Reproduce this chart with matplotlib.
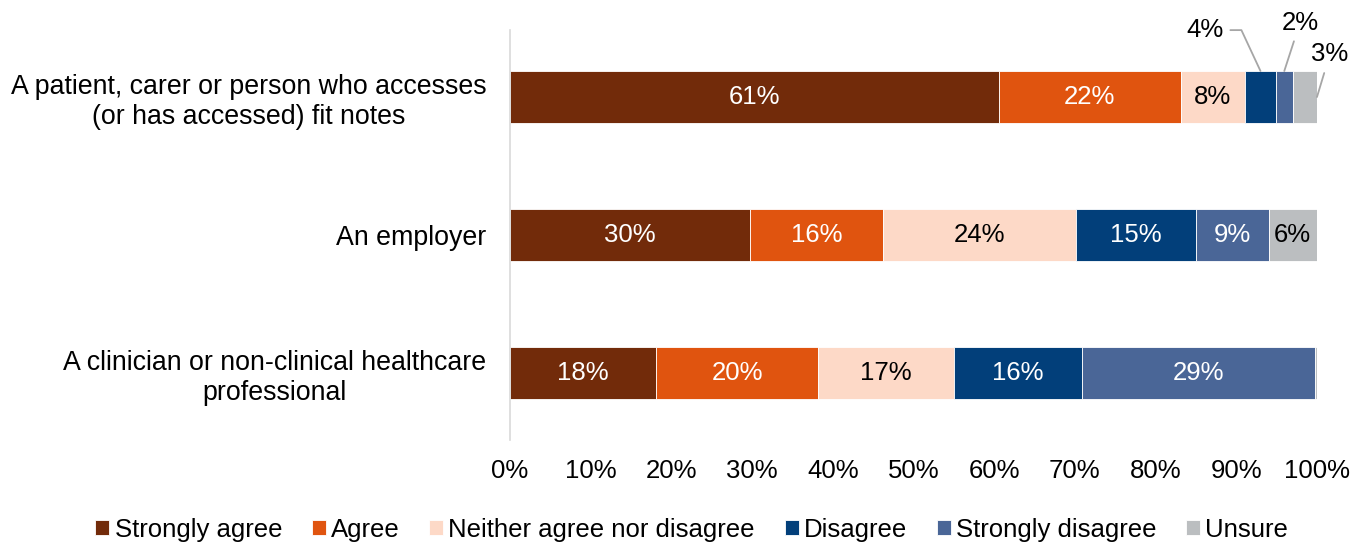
import matplotlib
matplotlib.use("Agg")
import matplotlib.pyplot as plt
import numpy as np

plt.rcParams['font.family'] = ['Liberation Sans', 'DejaVu Sans']
FS = 18.5

categories = ["A patient, carer or person who accesses\n(or has accessed) fit notes",
              "An employer",
              "A clinician or non-clinical healthcare\nprofessional"]
series = ["Strongly agree", "Agree", "Neither agree nor disagree",
          "Disagree", "Strongly disagree", "Unsure"]
strongly_agree = [60.6, 29.7, 18.1]
agree = [22.5, 16.5, 20.1]
neither = [8.0, 23.9, 16.8]
disagree = [3.8, 14.9, 15.9]
strongly_disagree = [2.1, 9.0, 28.9]
unsure = [3.0, 6.0, 0.2]
labels = [["61%", "30%", "18%"], ["22%", "16%", "20%"], ["8%", "24%", "17%"],
          ["4%", "15%", "16%"], ["2%", "9%", "29%"], ["3%", "6%", ""]]
colors = ["#722B0A", "#E0540F", "#FDD9C7", "#023F7A", "#4A6697", "#BBBEC0"]
text_colors = ["white", "white", "black", "white", "white", "black"]

values = [strongly_agree, agree, neither, disagree, strongly_disagree, unsure]

fig = plt.figure(figsize=(13.67, 5.43), dpi=100)
ax = fig.add_axes([0.3731, 0.1897, 0.5903, 0.7551])

y = np.arange(len(categories))
left = np.zeros(len(categories))
for i, (name, vals) in enumerate(zip(series, values)):
    vals = np.array(vals)
    bars = ax.barh(y, vals, left=left, height=0.377, color=colors[i],
                   edgecolor="white", linewidth=0.6, label=name)
    for j, b in enumerate(bars):
        lab = labels[i][j]
        if not lab:
            continue
        if j == 0 and i in (3, 4, 5):
            continue
        ax.text(left[j] + vals[j] / 2, y[j], lab, ha="center", va="center",
                color=text_colors[i], fontsize=FS)
    left = left + vals

# Callout labels for small segments in the first row
row0 = np.array([v[0] for v in values])
cum = np.cumsum(row0)
starts = cum - row0
lc = "#A6A6A6"
bar_top = -0.377 / 2
# 4%
x4 = starts[3] + row0[3] / 2
ax.annotate("4%", xy=(x4, bar_top), xytext=(86.1, -0.485), textcoords="data",
            ha="center", va="center", fontsize=FS, annotation_clip=False,
            arrowprops=dict(arrowstyle="-", color=lc, lw=1.3,
                            connectionstyle="angle,angleA=0,angleB=115,rad=0",
                            shrinkA=3, shrinkB=0))
# 2%
x2 = starts[4] + row0[4] / 2
ax.annotate("2%", xy=(x2, bar_top), xytext=(97.9, -0.54), textcoords="data",
            ha="center", va="center", fontsize=FS, annotation_clip=False,
            arrowprops=dict(arrowstyle="-", color=lc, lw=1.3,
                            shrinkA=3, shrinkB=0))
# 3%
ax.annotate("3%", xy=(100, 0.0), xytext=(101.6, -0.31), textcoords="data",
            ha="center", va="center", fontsize=FS, annotation_clip=False,
            arrowprops=dict(arrowstyle="-", color=lc, lw=1.3,
                            shrinkA=3, shrinkB=0))

ax.set_xlim(0, 100)
ax.set_ylim(2.486, -0.486)
ax.set_yticks(y)
ax.set_yticklabels(categories, fontsize=19.3, multialignment="center")
ax.set_xticks(np.arange(0, 101, 10))
ax.set_xticklabels([f"{t}%" for t in range(0, 101, 10)], fontsize=FS)
ax.tick_params(axis="both", length=0)
ax.tick_params(axis="y", pad=17)
ax.tick_params(axis="x", pad=14)
for s in ["top", "right", "bottom"]:
    ax.spines[s].set_visible(False)
ax.spines["left"].set_color("#D9D9D9")
ax.spines["left"].set_linewidth(1.2)

fig.legend(loc="lower center", bbox_to_anchor=(0.506, -0.04), ncol=6, frameon=False,
           fontsize=FS, handlelength=0.55, handleheight=0.55, handletextpad=0.2,
           columnspacing=1.15)

fig.savefig("out.png", dpi=100)
